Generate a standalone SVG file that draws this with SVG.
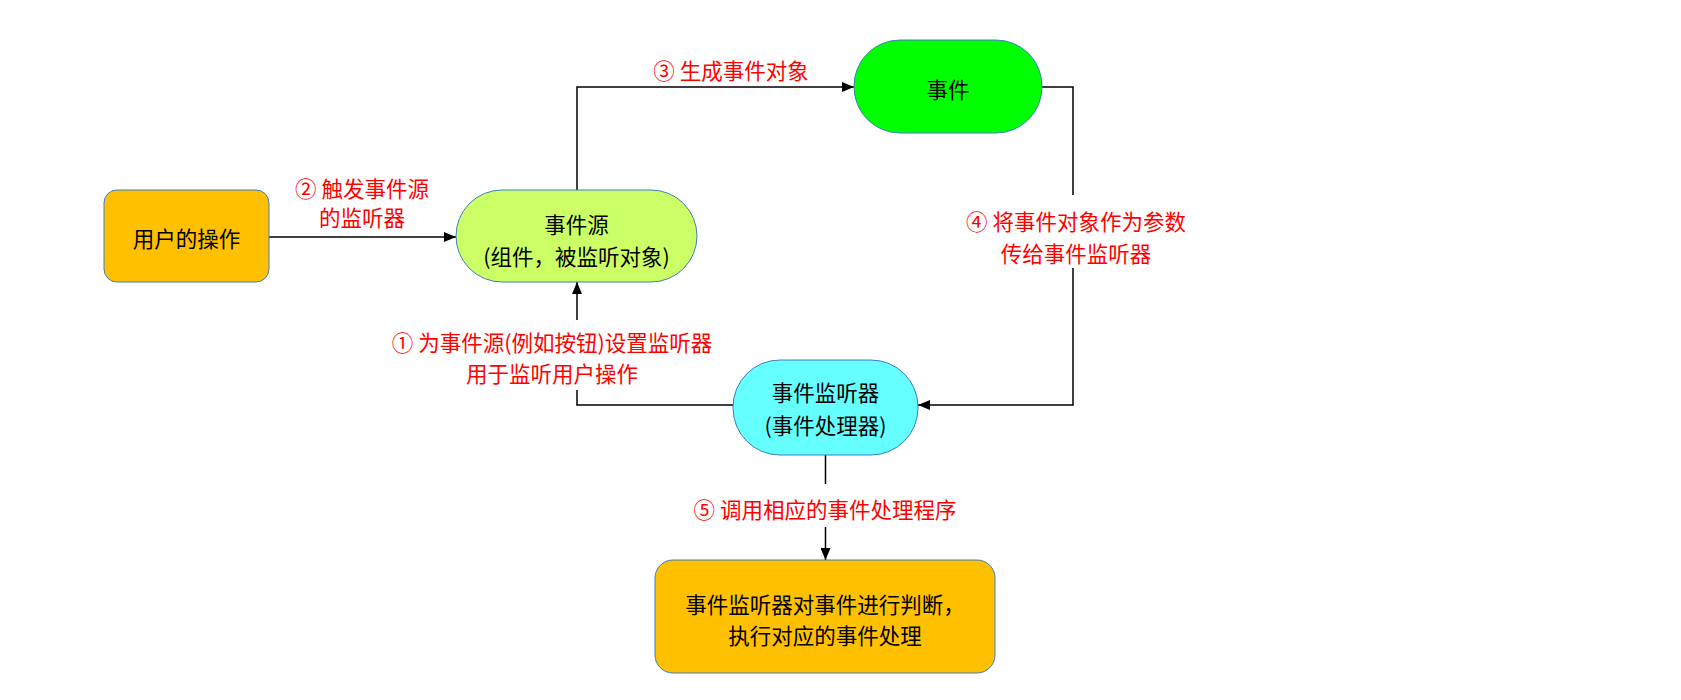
<svg xmlns="http://www.w3.org/2000/svg" width="1681" height="700" viewBox="0 0 1681 700">
<defs>
<marker id="arr" markerUnits="userSpaceOnUse" markerWidth="12" markerHeight="10" refX="12" refY="5" orient="auto">
<path d="M0,0 L12,5 L0,10 z" fill="#000"/>
</marker>
<style>
.node{stroke:#3C7FC1;stroke-width:1}
.t{font-family:"Noto Sans CJK SC","Noto Sans",sans-serif;font-size:21.5px;fill:#000;text-anchor:middle;dominant-baseline:central}
.lbl{font-family:"Noto Sans CJK SC","Noto Sans",sans-serif;font-size:21.5px;fill:#FF0000;text-anchor:middle;dominant-baseline:central}
.edge{fill:none;stroke:#000;stroke-width:1.5}
</style>
</defs>
<rect width="1681" height="700" fill="#fff"/>
<g id="connectors">
<path class="edge" d="M269,237 H456" marker-end="url(#arr)"/>
<path class="edge" d="M577,190 V87 H854" marker-end="url(#arr)"/>
<path class="edge" d="M1042,87 H1073 V195 M1073,268 V405 H918" marker-end="url(#arr)"/>
<path class="edge" d="M733,405 H577 V390 M577,320 V282" marker-end="url(#arr)"/>
<path class="edge" d="M825.5,455 V484 M825.5,527 V560" marker-end="url(#arr)"/>
<text class="lbl" x="362" y="187">② 触发事件源</text>
<text class="lbl" x="362" y="216">的监听器</text>
<text class="lbl" x="731" y="69">③ 生成事件对象</text>
<text class="lbl" x="1076" y="220">④ 将事件对象作为参数</text>
<text class="lbl" x="1076" y="252">传给事件监听器</text>
<text class="lbl" x="552" y="341">① 为事件源(例如按钮)设置监听器</text>
<text class="lbl" x="552" y="372">用于监听用户操作</text>
<text class="lbl" x="825" y="508">⑤ 调用相应的事件处理程序</text>
</g>
<g id="user-op">
<rect class="node" x="104" y="190" width="165" height="92" rx="13" fill="#FFC000"/>
<text class="t" x="186.5" y="237">用户的操作</text>
</g>
<g id="event-source">
<rect class="node" x="456" y="190" width="241" height="92" rx="46" fill="#CCFF66"/>
<text class="t" x="576.5" y="223">事件源</text>
<text class="t" x="576.5" y="255">(组件，被监听对象)</text>
</g>
<g id="event">
<rect class="node" x="854" y="40" width="188" height="93" rx="46" fill="#00FF00"/>
<text class="t" x="948" y="88">事件</text>
</g>
<g id="listener">
<rect class="node" x="733" y="360" width="185" height="95" rx="47" fill="#66FFFF"/>
<text class="t" x="825.5" y="391">事件监听器</text>
<text class="t" x="825.5" y="424">(事件处理器)</text>
</g>
<g id="handler">
<rect class="node" x="655" y="560" width="340" height="113" rx="18" fill="#FFC000"/>
<text class="t" x="825" y="603">事件监听器对事件进行判断，</text>
<text class="t" x="825" y="634">执行对应的事件处理</text>
</g>
</svg>
